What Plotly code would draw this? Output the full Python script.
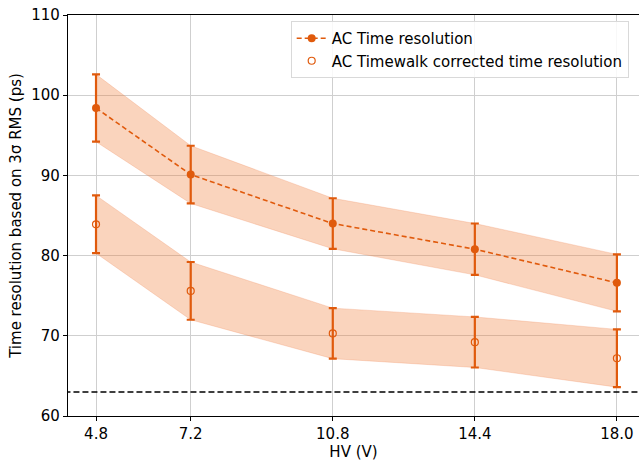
import plotly.graph_objects as go

hv = [4.8, 7.2, 10.8, 14.4, 18.0]
hv_labels = ["4.8", "7.2", "10.8", "14.4", "18.0"]
ac_res = [98.4, 90.1, 84.0, 80.8, 76.6]
ac_err = [4.2, 3.6, 3.15, 3.2, 3.55]
tw_res = [83.9, 75.6, 70.3, 69.2, 67.2]
tw_err = [3.6, 3.6, 3.15, 3.15, 3.6]
ref_level = 63.0

ORANGE = "#e05a0c"
FILL = "rgba(240,120,50,0.32)"
FONT = "DejaVu Sans"

fig = go.Figure()

def band(y, e):
    up = [a + b for a, b in zip(y, e)]
    lo = [a - b for a, b in zip(y, e)]
    fig.add_trace(go.Scatter(x=hv + hv[::-1], y=up + lo[::-1], fill="toself",
                             fillcolor=FILL, line=dict(width=0.8, color="rgba(240,140,90,0.35)"),
                             mode="lines", showlegend=False, hoverinfo="skip"))

band(ac_res, ac_err)
band(tw_res, tw_err)

fig.add_trace(go.Scatter(x=[4.0, 19.0], y=[ref_level, ref_level], mode="lines",
                         line=dict(color="black", width=1.5, dash="6px,3px"),
                         showlegend=False, hoverinfo="skip"))

fig.add_trace(go.Scatter(
    x=hv, y=ac_res, mode="lines+markers", name="AC Time resolution",
    line=dict(color=ORANGE, width=1.6, dash="5px,3px"),
    marker=dict(color=ORANGE, size=8, symbol="circle"),
    error_y=dict(type="data", array=ac_err, color=ORANGE, thickness=2.2, width=4)))

fig.add_trace(go.Scatter(
    x=hv, y=tw_res, mode="markers", name="AC Timewalk corrected time resolution",
    marker=dict(color=ORANGE, size=7, symbol="circle-open", line=dict(width=1.2)),
    error_y=dict(type="data", array=tw_err, color=ORANGE, thickness=2.2, width=4)))

fig.update_layout(
    width=639, height=463,
    margin=dict(l=68, r=0, t=15, b=47, autoexpand=False),
    paper_bgcolor="white", plot_bgcolor="white",
    font=dict(family=FONT, size=15, color="black"),
    showlegend=True,
    legend=dict(x=0.39, y=0.985, xanchor="left", yanchor="top",
                bgcolor="rgba(255,255,255,0.85)", bordercolor="#d9d9d9", borderwidth=1,
                font=dict(size=15, family=FONT), itemwidth=30, tracegroupgap=0),
)
fig.update_xaxes(range=[4.09, 18.56], tickvals=hv, ticktext=hv_labels,
                 showgrid=True, gridcolor="#cfcfcf", gridwidth=1,
                 showline=True, linecolor="black", linewidth=1.2, mirror=True,
                 ticks="outside", ticklen=4, tickcolor="black", automargin=False,
                 title=dict(text="HV (V)", font=dict(size=15), standoff=2),
                 zeroline=False)
fig.update_yaxes(range=[60, 110], tickvals=[60, 70, 80, 90, 100, 110],
                 showgrid=True, gridcolor="#cfcfcf", gridwidth=1,
                 showline=True, linecolor="black", linewidth=1.2, mirror=False,
                 ticks="outside", ticklen=4, tickcolor="black", automargin=False,
                 title=dict(text="Time resolution based on 3σ RMS (ps)", font=dict(size=15), standoff=6),
                 zeroline=False)

fig.write_html("out.html", config={"displayModeBar": False},
               post_script="document.body.style.margin='0';document.body.style.overflow='hidden';")
